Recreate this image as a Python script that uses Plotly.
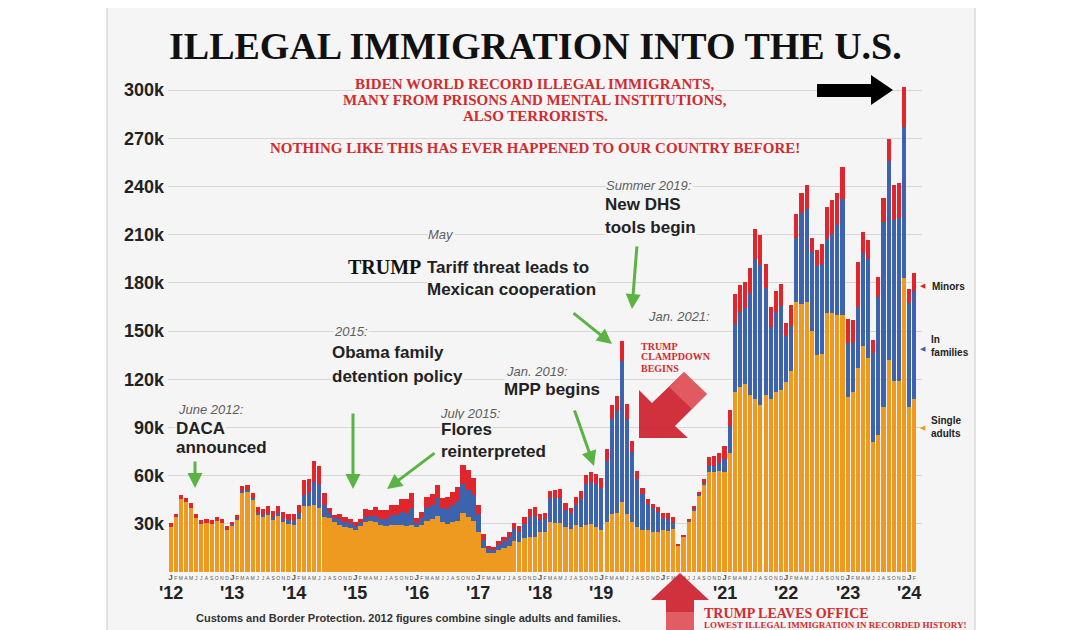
import plotly.graph_objects as go

# ---------------- DATA (thousands of people per month, Jan 2012 .. Feb 2024) ----------------
single_adults = [
    28.2, 34.2, 45.2, 43.4, 40.1, 33.6, 29.9, 30.8, 29.9, 31.8, 30.2, 26.4,   # 2012
    28.7, 32.4, 49.8, 50.1, 45.1, 36.0, 34.4, 35.4, 32.6, 34.7, 31.0, 30.0,   # 2013
    29.0, 33.0, 41.0, 41.0, 42.0, 40.0, 34.0, 33.5, 31.3, 29.2, 28.0, 27.7,   # 2014
    26.0, 28.5, 31.3, 31.7, 31.0, 29.2, 28.7, 29.2, 29.0, 29.2, 28.5, 29.2,   # 2015
    28.0, 29.0, 32.0, 33.0, 35.0, 31.0, 30.0, 31.0, 32.0, 37.0, 34.0, 32.0,   # 2016
    25.0, 15.0, 12.0, 12.0, 13.5, 15.0, 16.5, 19.0, 18.5, 21.0, 22.0, 22.0,   # 2017
    25.0, 25.0, 31.0, 30.5, 30.5, 28.0, 26.5, 29.0, 28.0, 29.0, 30.0, 28.0,   # 2018
    26.0, 31.0, 36.0, 37.0, 43.5, 36.0, 31.0, 28.0, 26.0, 26.0, 25.0, 25.0,   # 2019
    26.0, 25.5, 26.5, 16.5, 22.0, 31.2, 38.5, 47.5, 54.5, 62.4, 62.1, 63.0,   # 2020
    62.0, 74.0, 112.0, 115.0, 117.0, 110.0, 108.0, 104.0, 110.0, 108.0, 112.0, 113.0,  # 2021
    118.0, 125.0, 168.0, 167.0, 168.0, 150.0, 135.0, 136.0, 161.0, 161.0, 160.0, 160.0,  # 2022
    109.0, 112.0, 127.0, 141.0, 133.0, 81.0, 85.0, 103.0, 132.0, 119.0, 119.0, 183.0,  # 2023
    103.0, 108.0,                                                              # 2024
]
in_families = [
    0, 0, 0, 0, 0, 0, 0, 0, 0, 0, 0, 0,
    0.3, 0.4, 0.6, 0.7, 0.8, 1.0, 1.2, 1.5, 1.5, 2.0, 2.2, 2.5,
    2.5, 3.5, 7.0, 8.0, 14.0, 15.0, 8.0, 3.5, 2.2, 3.5, 3.0, 2.5,
    2.5, 2.0, 3.2, 3.0, 4.0, 4.0, 4.5, 6.0, 6.3, 8.0, 8.5, 10.5,
    2.5, 4.5, 8.0, 9.0, 11.0, 9.0, 9.5, 11.0, 12.0, 17.5, 17.0, 16.0,
    11.0, 5.0, 2.5, 2.0, 3.5, 4.0, 5.5, 7.5, 6.5, 9.0, 12.0, 13.0,
    7.5, 8.0, 15.0, 15.5, 15.5, 10.5, 10.0, 13.0, 17.5, 25.5, 26.0, 27.0,
    26.5, 38.0, 59.0, 63.0, 88.0, 59.0, 44.0, 30.0, 22.5, 16.3, 14.6, 12.6,
    7.4, 7.5, 4.2, 0.0, 0.1, 0.3, 0.6, 0.5, 0.7, 3.5, 4.0, 5.0,
    8.4, 17.1, 42.3, 46.8, 47.6, 63.5, 86.6, 87.3, 67.0, 44.8, 49.8, 52.3,
    28.9, 28.0, 40.1, 56.3, 58.1, 49.3, 55.2, 56.0, 46.5, 49.5, 55.8, 72.3,
    33.4, 30.6, 38.2, 57.9, 61.7, 55.6, 86.5, 114.9, 123.7, 99.9, 101.4, 93.9,
    64.2, 67.0,
]
minors = [
    2.0, 2.2, 2.6, 2.8, 3.0, 2.8, 2.4, 2.5, 2.4, 2.6, 2.5, 2.2,
    2.3, 2.6, 3.2, 3.4, 3.5, 3.6, 3.9, 4.1, 3.9, 4.3, 4.1, 3.9,
    4.5, 5.5, 9.0, 9.0, 13.0, 11.0, 7.0, 2.7, 1.9, 3.3, 3.0, 2.7,
    2.8, 2.5, 4.5, 3.6, 5.6, 5.3, 5.3, 6.4, 6.3, 8.1, 8.3, 9.3,
    3.0, 4.0, 6.8, 6.5, 8.0, 6.0, 7.0, 8.0, 9.0, 12.0, 12.4, 10.5,
    6.0, 3.6, 2.0, 1.8, 2.5, 2.7, 3.0, 4.0, 3.5, 4.0, 5.0, 5.5,
    3.5, 3.7, 4.3, 5.2, 5.9, 4.6, 3.5, 4.7, 5.0, 6.2, 6.5, 5.8,
    5.8, 7.5, 8.7, 9.4, 12.6, 9.3, 6.8, 4.7, 4.0, 3.0, 3.0, 3.0,
    3.2, 3.7, 3.7, 0.6, 1.1, 1.5, 1.8, 2.0, 2.4, 6.0, 6.0, 5.9,
    8.0, 10.0, 19.0, 17.0, 16.0, 15.5, 19.0, 18.5, 15.0, 12.0, 13.0, 14.0,
    8.0, 13.0, 14.5, 12.5, 15.0, 8.5, 10.0, 12.0, 20.0, 21.0, 20.0, 20.0,
    15.0, 14.0, 28.0, 13.0, 12.0, 8.0, 12.0, 15.0, 14.0, 22.0, 22.0, 25.0,
    9.0, 11.0,
]
month_letters = ["J", "F", "M", "A", "M", "J", "J", "A", "S", "O", "N", "D"]
year_labels = ["'12", "'13", "'14", "'15", "'16", "'17", "'18", "'19", "", "'21", "'22", "'23", "'24"]
y_tick_values = [30000, 60000, 90000, 120000, 150000, 180000, 210000, 240000, 270000, 300000]
y_tick_labels = ["30k", "60k", "90k", "120k", "150k", "180k", "210k", "240k", "270k", "300k"]

# ---------------- LAYOUT GEOMETRY ----------------
# the page body adds an 8px offset; all pixel positions below are screen positions
OFF = 8
W, H = 1080, 630
PW, PH = 754, 514
L = 168 - OFF
T = 58 - OFF
R = W - L - PW
B = H - T - PH


def px(x):
    return (x - OFF - L) / PW


def py(y):
    return (T + PH - (y - OFF)) / PH


def path(points):
    return "M " + " L ".join(f"{px(x):.5f},{py(y):.5f}" for x, y in points) + " Z"


CARD = "#f5f5f5"
ORANGE = "#EE9A20"
BLUE = "#3C63AE"
RED = "#E0262B"
GREEN = "#5BB344"
TXT = "#222222"
SANS = "Liberation Sans"
SERIF = "Liberation Serif"

n = len(single_adults)
months = list(range(n))
widths = [1.0 if 30 <= i <= 66 else 0.8 for i in months]

fig = go.Figure()
for name, vals, col in [("Single adults", single_adults, ORANGE),
                        ("In families", in_families, BLUE),
                        ("Minors", minors, RED)]:
    fig.add_trace(go.Bar(
        x=months, y=[v * 1000 for v in vals], name=name, width=widths,
        marker=dict(color=col, line=dict(width=0)), showlegend=False,
    ))

ticktext = []
for i in months:
    letter = month_letters[i % 12]
    if i % 12 == 0:
        ticktext.append(f"<span style='font-size:8px'><b>{letter}</b></span>")
    else:
        ticktext.append(letter)

fig.update_layout(
    width=W, height=H,
    margin=dict(l=L, r=R, t=T, b=B, pad=0),
    paper_bgcolor="#ffffff",
    plot_bgcolor="rgba(0,0,0,0)",
    barmode="stack",
    bargap=0,
    font=dict(family=SANS, color=TXT),
    xaxis=dict(
        range=[-0.5, n + 0.5], tickmode="array", tickvals=months, ticktext=ticktext,
        tickfont=dict(size=5, color="#555555", family=SANS), tickangle=0,
        showgrid=False, zeroline=False, showline=False, ticks="", ticklabelstandoff=2,
    ),
    yaxis=dict(
        range=[0, 320000], tickmode="array", tickvals=y_tick_values,
        ticktext=[f"<b>{t}</b>" for t in y_tick_labels],
        tickfont=dict(size=18, color=TXT, family=SANS),
        showgrid=True, gridcolor="#d6d6d6", gridwidth=1, zeroline=False,
        showline=False, ticks="", ticklabelstandoff=3,
    ),
)

shapes = []
# card
shapes.append(dict(type="rect", xref="paper", yref="paper", x0=px(107), x1=px(975),
                   y0=py(650), y1=py(0.5), fillcolor=CARD, line=dict(color="#c9c9c9", width=1),
                   layer="below"))
# black arrow (top right)
shapes.append(dict(type="path", xref="paper", yref="paper",
                   path=path([(817, 84), (871, 84), (871, 75), (893, 90), (871, 105), (871, 97), (817, 97)]),
                   fillcolor="#000000", line=dict(width=0), layer="above"))
# red clampdown arrow
shapes.append(dict(type="path", xref="paper", yref="paper",
                   path=path([(639, 390), (652, 403), (684, 372), (707, 394), (675, 426), (688, 438), (639, 438)]),
                   fillcolor="#cc1f2b", line=dict(width=0), opacity=0.92, layer="above"))
shapes.append(dict(type="path", xref="paper", yref="paper",
                   path=path([(684, 372), (707, 394), (692, 409), (669, 387)]),
                   fillcolor="#ee7b82", line=dict(width=0), opacity=0.55, layer="above"))
# red "leaves office" arrow
shapes.append(dict(type="path", xref="paper", yref="paper",
                   path=path([(680, 573), (709, 600), (694, 600), (694, 640), (666, 640), (666, 600), (651, 600)]),
                   fillcolor="#cc1f2b", line=dict(width=0), opacity=0.92, layer="above"))
shapes.append(dict(type="path", xref="paper", yref="paper",
                   path=path([(666, 612), (694, 612), (694, 640), (666, 640)]),
                   fillcolor="#f08a90", line=dict(width=0), opacity=0.5, layer="above"))
fig.update_layout(shapes=shapes)

ann = []


def txt(x, y, text, size=17, color=TXT, family=SANS, style="b", anchor="left", bg=True):
    if style == "b":
        text = f"<b>{text}</b>"
    elif style == "i":
        text = f"<i>{text}</i>"
    ann.append(dict(x=px(x), y=py(y), xref="paper", yref="paper", text=text, showarrow=False,
                    xanchor=anchor, yanchor="middle",
                    font=dict(size=size, color=color, family=family),
                    bgcolor=CARD if bg else None, borderpad=0))


# title & red message
txt(535, 46, "ILLEGAL IMMIGRATION INTO THE U.S.", size=38, color="#111111", family=SERIF, anchor="center", bg=False)
for yy, line in [(84, "BIDEN WORLD RECORD ILLEGAL IMMIGRANTS,"),
                 (100, "MANY FROM PRISONS AND MENTAL INSTITUTIONS,"),
                 (116, "ALSO TERRORISTS."),
                 (148, "NOTHING LIKE THIS HAS EVER HAPPENED TO OUR COUNTRY BEFORE!")]:
    txt(535, yy, line, size=15, color="#d42a2e", family=SERIF, anchor="center")

GRAY = "#5e5e5e"
txt(177, 409, "June 2012:", size=13, color=GRAY, style="i")
txt(175, 428, "DACA")
txt(175, 447, "announced")
txt(333, 331, "2015:", size=13, color=GRAY, style="i")
txt(331, 352, "Obama family")
txt(331, 376, "detention policy")
txt(439, 413, "July 2015:", size=13, color=GRAY, style="i")
txt(440, 429, "Flores")
txt(440, 452, "reinterpreted")
txt(427, 234, "May", size=13, color=GRAY, style="i")
txt(347, 267, "TRUMP", size=20, color="#111111", family=SERIF)
txt(426, 267, "Tariff threat leads to")
txt(426, 289, "Mexican cooperation")
txt(605, 185, "Summer 2019:", size=13, color=GRAY, style="i")
txt(604, 204, "New DHS")
txt(604, 227, "tools begin")
txt(647, 316, "Jan. 2021:", size=13, color=GRAY, style="i")
for yy, line in [(346, "TRUMP"), (357, "CLAMPDOWN"), (368, "BEGINS")]:
    txt(640, yy, line, size=10, color="#d42a2e", family=SERIF)
txt(505, 371, "Jan. 2019:", size=13, color=GRAY, style="i")
txt(503, 390, "MPP begins")
txt(703, 613, "TRUMP LEAVES OFFICE", size=14, color="#d42a2e", family=SERIF)
txt(703, 625, "LOWEST ILLEGAL IMMIGRATION IN RECORDED HISTORY!", size=9, color="#d42a2e", family=SERIF)
txt(195, 618, "Customs and Border Protection. 2012 figures combine single adults and families.",
    size=11, color="#333333")

# right-side key
txt(931, 286, "Minors", size=10)
txt(930, 339, "In", size=10)
txt(930, 352, "families", size=10)
txt(930, 421, "Single", size=10)
txt(930, 433, "adults", size=10)
for yy, col in [(286, RED), (349, BLUE), (428, ORANGE)]:
    txt(919, yy, "◀", size=7, color=col, family="DejaVu Sans", style="", bg=False)

# year labels under January ticks
for k, lab in enumerate(year_labels):
    if lab:
        ann.append(dict(x=12 * k, y=py(593), xref="x", yref="paper", text=f"<b>{lab}</b>",
                        showarrow=False, xanchor="center", yanchor="middle",
                        font=dict(size=18, color=TXT, family=SANS)))

# green arrows
for (x1, y1, x2, y2) in [(195, 460, 195, 488), (353, 412, 353, 489), (436, 452, 387, 489),
                         (572, 312, 612, 344), (637, 245, 632, 309), (574, 409, 594, 466)]:
    ann.append(dict(x=px(x2), y=py(y2), xref="paper", yref="paper", text="", showarrow=True,
                    ax=x1 - x2, ay=y1 - y2, axref="pixel", ayref="pixel",
                    arrowcolor=GREEN, arrowwidth=3, arrowhead=2, arrowsize=1,
                    standoff=0, startstandoff=0))

fig.update_layout(annotations=ann)
fig.write_html("out.html")
